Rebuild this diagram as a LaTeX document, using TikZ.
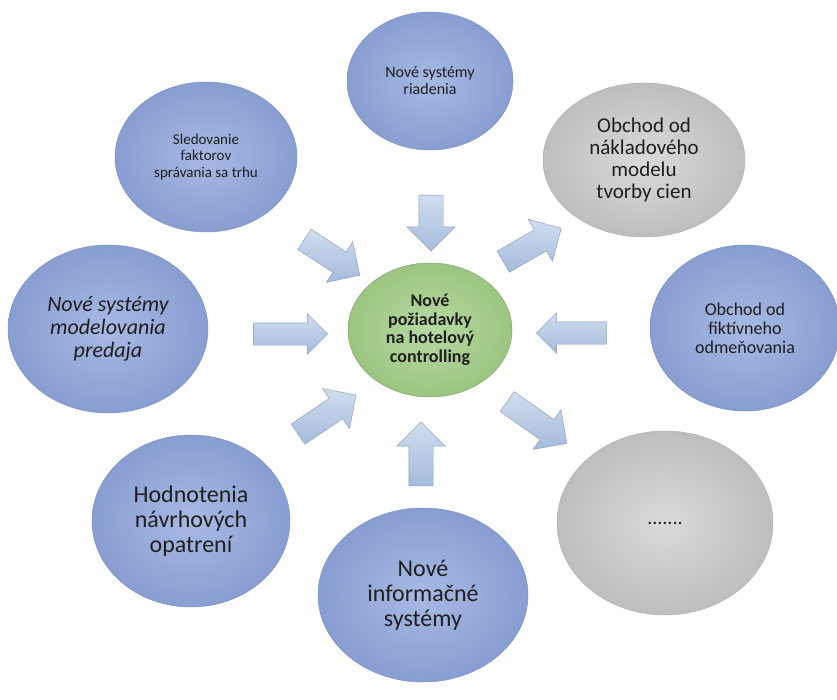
\documentclass[tikz,border=0pt]{standalone}
\usepackage{fontspec}
\setmainfont{Carlito}
\usetikzlibrary{shapes.geometric,shapes.arrows,positioning}

\definecolor{blueIn}{HTML}{A8B9E3}
\definecolor{blueOut}{HTML}{889DD1}
\definecolor{blueEdge}{HTML}{7D91C4}
\definecolor{greyIn}{HTML}{DADADA}
\definecolor{greyOut}{HTML}{BEBEBE}
\definecolor{greenIn}{HTML}{B8D9A3}
\definecolor{greenOut}{HTML}{9BC581}
\definecolor{arrowLight}{HTML}{D0DDEF}
\definecolor{arrowDark}{HTML}{A5BBDB}
\definecolor{arrowEdge}{HTML}{8599BA}

\tikzset{
  bubble/.style={ellipse, inner sep=0pt, align=center, text=black!88},
  bluebubble/.style={bubble, shading=radial, inner color=blueIn, outer color=blueOut, draw=blueEdge, line width=0.5pt},
  greybubble/.style={bubble, shading=radial, inner color=greyIn, outer color=greyOut, draw=black!30, line width=0.5pt},
  flow/.style={single arrow, inner xsep=0pt, inner ysep=12pt, single arrow head extend=12pt,
    top color=arrowLight, bottom color=arrowDark, draw=arrowEdge, line width=0.4pt}
}

\begin{document}
\begin{tikzpicture}[x=1pt,y=1pt]
\useasboundingbox (0,0) rectangle (837,-700);
% outer ideas
\node[bluebubble, minimum width=166pt, minimum height=138pt, font=\fontsize{16}{17}\selectfont] (idea_n) at (430,-81) {Nové systémy\\riadenia};
\node[bluebubble, minimum width=182pt, minimum height=150pt, font=\fontsize{15}{16.5}\selectfont] (idea_nw) at (206,-157) {Sledovanie\\faktorov\\správania sa trhu};
\node[greybubble, minimum width=202pt, minimum height=154pt, font=\fontsize{21}{22}\selectfont] (idea_ne) at (644,-160) {Obchod od\\nákladového\\modelu\\tvorby cien};
\node[bluebubble, minimum width=200pt, minimum height=168pt, font=\fontsize{22}{23}\selectfont\itshape] (idea_w) at (108,-329) {Nové systémy\\modelovania\\predaja};
\node[bluebubble, minimum width=190pt, minimum height=166pt, font=\fontsize{18}{19}\selectfont] (idea_e) at (745,-328) {Obchod od\\fiktívneho\\odmeňovania};
\node[bluebubble, minimum width=198pt, minimum height=172pt, font=\fontsize{24}{25}\selectfont] (idea_sw) at (191,-521) {Hodnotenia\\návrhových\\opatrení};
\node[bluebubble, minimum width=210pt, minimum height=174pt, font=\fontsize{24}{25}\selectfont] (idea_s) at (423,-595) {Nové\\informačné\\systémy};
\node[greybubble, minimum width=216pt, minimum height=184pt, font=\fontsize{20}{20}\selectfont] (idea_se) at (665,-523) {.......};
% centre
\node[bubble, shading=radial, inner color=greenIn, outer color=greenOut, draw=greenOut!85!black, line width=0.5pt,
  minimum width=164pt, minimum height=134pt, font=\fontsize{18}{18.5}\selectfont\bfseries] (core) at (430,-330) {Nové\\požiadavky\\na hotelový\\controlling};
% arrows
\node[flow, minimum height=56pt, rotate=-90] (arrow_n) at (431,-217) {};
\node[flow, minimum height=66pt, rotate=-33] (arrow_nw) at (327,-254) {};
\node[flow, minimum height=67pt, rotate=30] (arrow_ne) at (527,-248) {};
\node[flow, minimum height=74pt, inner ysep=11pt, single arrow head extend=9pt] (arrow_w) at (285,-334) {};
\node[flow, minimum height=70pt, inner ysep=11pt, single arrow head extend=9pt, rotate=180] (arrow_e) at (577,-333) {};
\node[flow, minimum height=70pt, rotate=34] (arrow_sw) at (322,-418) {};
\node[flow, minimum height=64pt, rotate=90] (arrow_s) at (421,-460) {};
\node[flow, minimum height=73pt, rotate=-35] (arrow_se) at (532,-419) {};
\end{tikzpicture}
\end{document}
